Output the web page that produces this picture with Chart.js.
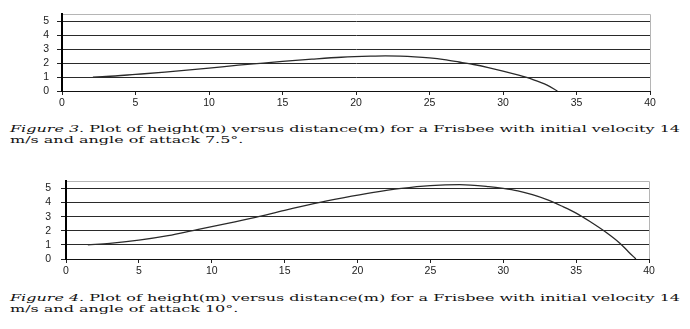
<!DOCTYPE html>
<html>
<head>
<meta charset="utf-8">
<script src="https://cdn.jsdelivr.net/npm/chart.js@4"></script>
<style>
  html, body { margin: 0; padding: 0; background: #fff; }
  body { width: 690px; height: 329px; position: relative; overflow: hidden; }
  .box { position: absolute; left: 0; width: 690px; }
  .cap { position: absolute; left: 10px; white-space: nowrap; font-family: 'DejaVu Serif', serif;
         font-size: 10px; line-height: 10px; color: #111; transform-origin: 0 50%; }
  .cap i { font-style: italic; }
</style>
</head>
<body>
<div class="box" style="top:0;height:115px"><canvas id="fig3"></canvas></div>
<div class="box" style="top:165px;height:115px"><canvas id="fig4"></canvas></div>

<div class="cap" id="c3a" style="top:124px"><i>Figure 3.</i> Plot of height(m) versus distance(m) for a Frisbee with initial velocity 14</div>
<div class="cap" id="c3b" style="top:135px">m/s and angle of attack 7.5°.</div>
<div class="cap" id="c4a" style="top:293px"><i>Figure 4.</i> Plot of height(m) versus distance(m) for a Frisbee with initial velocity 14</div>
<div class="cap" id="c4b" style="top:304px">m/s and angle of attack 10°.</div>

<script>
// Frisbee trajectories: height (m) vs distance (m)

const X_TICKS = [0, 5, 10, 15, 20, 25, 30, 35, 40];
const Y_TICKS = [0, 1, 2, 3, 4, 5];

// angle of attack 7.5°
const dist75 = [2.1, 3, 5, 7, 10, 12, 13.7, 15, 17, 19, 21, 22, 23, 24, 25, 26, 27, 28, 29, 30, 31, 32, 33, 33.7];
const height75 = [1.0, 1.04, 1.19, 1.35, 1.64, 1.85, 2.0, 2.12, 2.28, 2.42, 2.5, 2.52, 2.5, 2.45, 2.37, 2.25, 2.08, 1.9, 1.68, 1.43, 1.15, 0.83, 0.42, 0];

// angle of attack 10°
const dist10 = [1.5, 3, 5, 7, 9, 11, 13, 15, 17, 19, 21, 23, 25, 27, 29, 30, 31, 32, 33, 34, 35, 36, 37, 38, 38.6, 39.1];
const height10 = [1.0, 1.1, 1.33, 1.65, 2.08, 2.5, 2.95, 3.45, 3.92, 4.33, 4.7, 5.0, 5.2, 5.27, 5.13, 5.0, 4.82, 4.55, 4.2, 3.75, 3.25, 2.62, 1.93, 1.12, 0.5, 0];

const X_MAX = 40;
const Y_MAX = 5.5;

const $ = (id) => document.getElementById(id);
const tickFont = { family: "'Liberation Sans', Arial, sans-serif", size: 10.5 };

function makeChart(id, xs, ys, lay) {
  const pts = xs.map((x, i) => ({ x, y: ys[i] }));
  return new Chart($(id), {
    type: 'scatter',
    data: {
      datasets: [{
        data: pts, showLine: true, pointRadius: 0,
        borderColor: '#2a2a2a', borderWidth: 1.3, cubicInterpolationMode: 'monotone',
      }],
    },
    options: {
      responsive: true, maintainAspectRatio: false, animation: false,
      layout: { padding: { left: 0, right: 690 - lay.right, top: lay.top, bottom: 0 } },
      plugins: { legend: { display: false }, tooltip: { enabled: false } },
      scales: {
        x: {
          type: 'linear', min: 0, max: X_MAX,
          afterBuildTicks: (s) => { s.ticks = X_TICKS.map((v) => ({ value: v })); },
          afterFit: (s) => { s.height = lay.h - lay.bottom; },
          grid: {
            color: (c) => (c.tick && c.tick.value === X_MAX ? '#b5b5b5' : 'rgba(0,0,0,0)'),
            tickColor: '#222', tickLength: 4, lineWidth: 1,
          },
          border: { color: '#111', width: 1 },
          ticks: { font: tickFont, color: '#222', padding: 2, maxRotation: 0, autoSkip: false },
        },
        y: {
          type: 'linear', min: 0, max: Y_MAX,
          afterBuildTicks: (s) => { s.ticks = Y_TICKS.concat([Y_MAX]).map((v) => ({ value: v })); },
          afterFit: (s) => { s.width = lay.left; },
          grid: {
            color: (c) => (c.tick && c.tick.value === Y_MAX ? '#b5b5b5' : '#2a2a2a'),
            tickColor: (c) => (c.tick && c.tick.value === Y_MAX ? 'rgba(0,0,0,0)' : '#222'),
            tickLength: 5, lineWidth: 1,
          },
          border: { color: '#000', width: 2 },
          ticks: {
            font: tickFont, color: '#222', padding: lay.ypad, autoSkip: false,
            callback: (v) => (v === Y_MAX ? '' : v),
          },
        },
      },
    },
  });
}

makeChart('fig3', dist75, height75, { left: 62, right: 650, top: 10, bottom: 91, h: 115, ypad: 8 });
makeChart('fig4', dist10, height10, { left: 66, right: 649, top: 12, bottom: 94, h: 115, ypad: 10 });

// stretch captions so line one spans the text block like the source
function fitCaption(a, b, width) {
  const w = $(a).getBoundingClientRect().width;
  const k = width / w;
  [a, b].forEach((id) => { $(id).style.transform = `scaleX(${k})`; });
}
fitCaption('c3a', 'c3b', 670);
fitCaption('c4a', 'c4b', 670);
</script>
</body>
</html>
